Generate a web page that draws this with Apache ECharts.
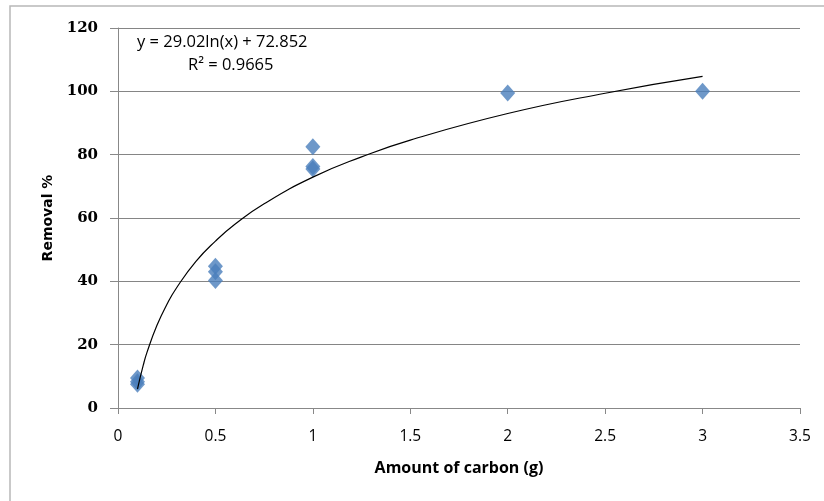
<!DOCTYPE html>
<html>
<head>
<meta charset="utf-8">
<script src="https://cdn.jsdelivr.net/npm/echarts@6/dist/echarts.min.js"></script>
<style>
html,body{margin:0;padding:0;background:#fff;}
#chart{width:824px;height:501px;}
</style>
</head>
<body>
<div id="chart"></div>
<script>
// Observed data (amount of carbon in g, removal %)
const carbonX = [0.1, 0.1, 0.1, 0.5, 0.5, 0.5, 1, 1, 1, 2, 3];
const removalY = [9.5, 8.3, 7.5, 44.8, 43.0, 40.3, 82.5, 76.3, 75.5, 99.5, 100];
// Logarithmic trendline
const trendX = [0.1, 0.13, 0.15, 0.2, 0.25, 0.3, 0.4, 0.5, 0.6, 0.75, 1, 1.25, 1.5, 2, 2.5, 3];
const trendY = [6.0, 13.6, 17.8, 26.1, 32.6, 37.9, 46.3, 52.7, 58.0, 64.5, 72.9, 79.3, 84.6, 93.0, 99.4, 104.7];
// Axis ticks
const xTicks = [0, 0.5, 1, 1.5, 2, 2.5, 3, 3.5];
const yTicks = [0, 20, 40, 60, 80, 100, 120];
const equationText = 'y = 29.02ln(x) + 72.852';
const r2Text = 'R² = 0.9665';
const xTitle = 'Amount of carbon (g)';
const yTitle = 'Removal %';

const chart = echarts.init(document.getElementById('chart'), null, {renderer: 'canvas'});
const narrow = '"Liberation Sans Narrow", "Open Sans", sans-serif';
chart.setOption({
  animation: false,
  backgroundColor: '#fff',
  grid: {left: 118, right: 24, top: 28, bottom: 93, containLabel: false},
  graphic: [
    {type: 'rect', shape: {x: 10, y: 6, width: 900, height: 600}, style: {fill: 'none', stroke: '#b8b8b8', lineWidth: 1.5}, z: -10},
    {type: 'text', left: 137, top: 34, style: {text: equationText, font: '16.5px ' + narrow, fill: '#000'}},
    {type: 'text', left: 188, top: 57, style: {text: r2Text, font: '16.5px ' + narrow, fill: '#000'}}
  ],
  xAxis: {
    type: 'value', min: xTicks[0], max: xTicks[xTicks.length - 1], interval: 0.5,
    name: xTitle, nameLocation: 'middle', nameGap: 52,
    nameTextStyle: {fontFamily: narrow, fontSize: 16, fontWeight: 'bold', color: '#000'},
    axisLine: {lineStyle: {color: '#888', width: 1}},
    axisTick: {show: true, length: 6, lineStyle: {color: '#888'}},
    axisLabel: {fontFamily: narrow, fontSize: 15.5, color: '#000', margin: 21},
    splitLine: {show: false}
  },
  yAxis: {
    type: 'value', min: yTicks[0], max: yTicks[yTicks.length - 1], interval: 20,
    name: yTitle, nameLocation: 'middle', nameGap: 62,
    nameTextStyle: {fontFamily: '"DejaVu Sans", sans-serif', fontSize: 14, fontWeight: 'bold', color: '#000'},
    axisLine: {show: true, lineStyle: {color: '#888', width: 1}},
    axisTick: {show: true, length: 8, lineStyle: {color: '#888'}},
    axisLabel: {fontFamily: '"DejaVu Serif", serif', fontSize: 15, fontWeight: 'bold', color: '#000', margin: 20},
    splitLine: {show: true, lineStyle: {color: '#858585', width: 1}}
  },
  series: [
    {
      type: 'line', data: trendX.map((x, i) => [x, trendY[i]]),
      smooth: true, showSymbol: false, symbol: 'none',
      lineStyle: {color: '#000', width: 1.2}, z: 3
    },
    {
      type: 'scatter', data: carbonX.map((x, i) => [x, removalY[i]]),
      symbol: 'diamond', symbolSize: [15, 17],
      itemStyle: {color: '#4a7ebb'}, z: 2
    }
  ]
});
</script>
</body>
</html>
